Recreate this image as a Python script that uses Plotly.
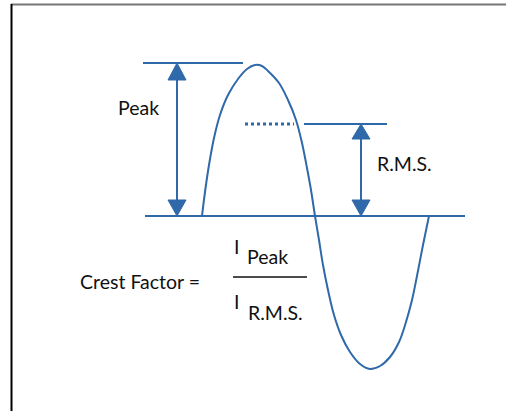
import plotly.graph_objects as go

# ---- data (pixel frame: x right, y down) ----
curve_x = [202, 205, 209, 214, 220, 228, 238, 247, 255, 262, 268, 279, 288, 296, 302, 307, 311, 315,
           319, 323, 328, 334, 341, 350, 360, 370, 380, 390, 399, 406, 412, 417, 423, 429]
curve_y = [216, 192, 165, 138, 115, 95, 79, 69, 65, 66, 71, 83, 100, 120, 143, 168, 190, 216,
           240, 265, 290, 315, 335, 352, 364, 369, 366, 357, 342, 322, 300, 276, 245, 216]

baseline_y = 216
baseline_x = [145, 465]
peak_y = 63
peak_line_x = [143, 243]
rms_y = 124
rms_line_x = [304, 387]
rms_dotted_x = [245, 294]

peak_arrow_x = 177
rms_arrow_x = 361

labels = ["Peak", "R.M.S.", "Crest Factor ="]

BLUE = "#2F69AA"
TXT = "#111111"
FONT = "Lato"
FS = 19.5

fig = go.Figure()

def line(xs, ys, color=BLUE, width=2, dash=None):
    fig.add_trace(go.Scatter(x=xs, y=ys, mode="lines",
                             line=dict(color=color, width=width, dash=dash),
                             hoverinfo="skip", showlegend=False))

def arrowhead(x, tip, base, half=9):
    fig.add_trace(go.Scatter(x=[x - half, x + half, x, x - half],
                             y=[base, base, tip, base], mode="lines",
                             fill="toself", fillcolor=BLUE,
                             line=dict(color=BLUE, width=1),
                             hoverinfo="skip", showlegend=False))

# sine-like curve
fig.add_trace(go.Scatter(x=curve_x, y=curve_y, mode="lines",
                         line=dict(color=BLUE, width=2, shape="spline", smoothing=1.0),
                         hoverinfo="skip", showlegend=False))

# reference lines
line(baseline_x, [baseline_y, baseline_y])
line(peak_line_x, [peak_y, peak_y])
line(rms_line_x, [rms_y, rms_y])
line(rms_dotted_x, [rms_y, rms_y], width=3, dash="dot")

# double arrows
line([peak_arrow_x, peak_arrow_x], [peak_y + 16, baseline_y - 16])
arrowhead(peak_arrow_x, peak_y, peak_y + 17)
arrowhead(peak_arrow_x, baseline_y, baseline_y - 16)
line([rms_arrow_x, rms_arrow_x], [rms_y + 14, baseline_y - 16])
arrowhead(rms_arrow_x, rms_y, rms_y + 15)
arrowhead(rms_arrow_x, baseline_y, baseline_y - 16)

# fraction bar
line([233, 307], [277, 277], color=TXT, width=1.5)

def text(t, x, y, anchor="left"):
    fig.add_annotation(x=x, y=y, text=t, showarrow=False, xanchor=anchor,
                       yanchor="middle", font=dict(family=FONT, size=FS, color=TXT))

text(labels[0], 116, 107)
text(labels[1], 375, 163)
text(labels[2], 78, 281)
text("I", 236, 246, "center")
text("Peak", 245, 256)
text("I", 236, 301, "center")
text("R.M.S.", 246, 312)

# frame lines
fig.add_shape(type="line", x0=11, x1=506, y0=4.5, y1=4.5,
              line=dict(color="#777777", width=2))
fig.add_shape(type="line", x0=11.5, x1=11.5, y0=4, y1=411,
              line=dict(color="#000000", width=2))

fig.update_layout(width=506, height=411, margin=dict(l=0, r=0, t=0, b=0),
                  paper_bgcolor="white", plot_bgcolor="white",
                  xaxis=dict(range=[0, 506], visible=False, fixedrange=True),
                  yaxis=dict(range=[411, 0], visible=False, fixedrange=True))

fig.write_html("out.html", config={"displayModeBar": False},
               post_script="document.body.style.margin='0';document.body.style.overflow='hidden';")
